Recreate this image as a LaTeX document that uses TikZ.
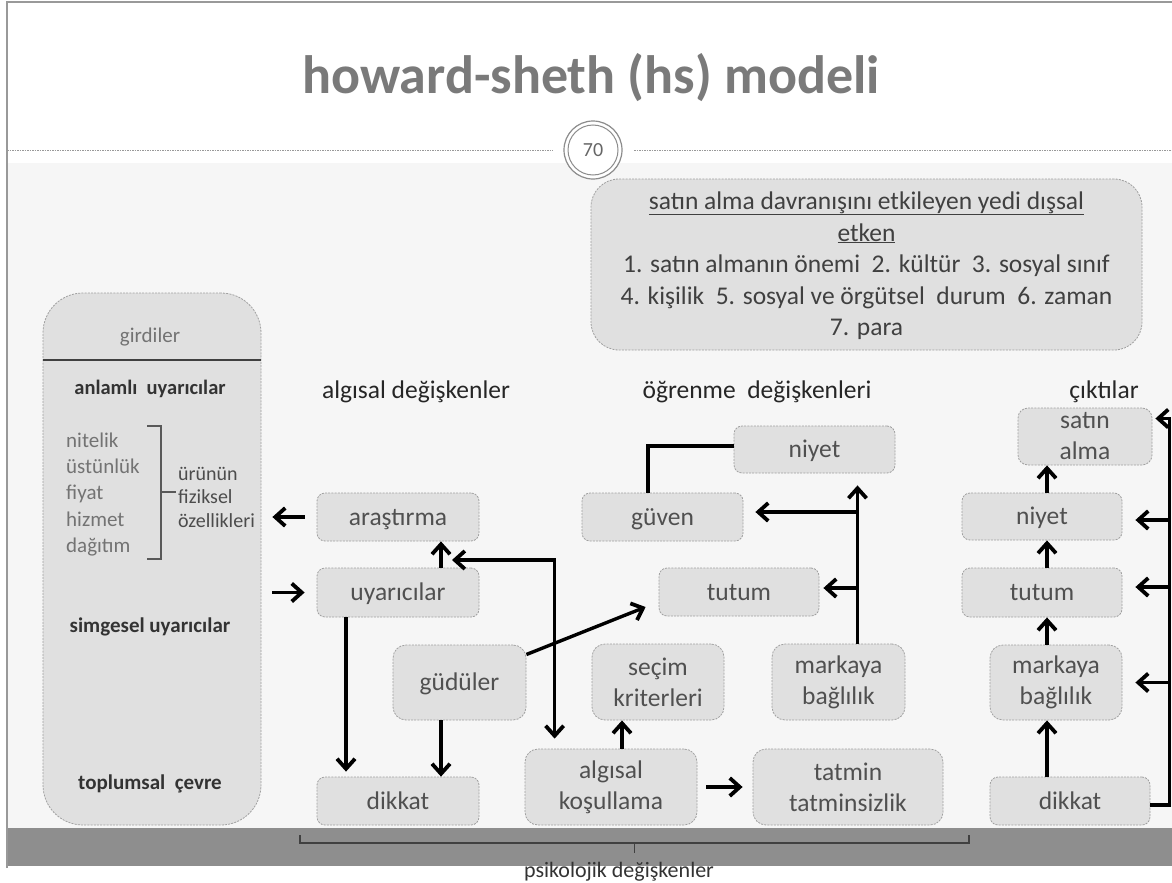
\documentclass[tikz,border=0pt]{standalone}
\usepackage{fontspec}
\setmainfont{Carlito}
\usetikzlibrary{arrows.meta,calc}
\definecolor{boxfill}{HTML}{E0E0E0}
\definecolor{boxline}{HTML}{A0A0A0}
\definecolor{boxtext}{HTML}{505050}
\definecolor{bgband}{HTML}{F6F6F6}
\definecolor{barcol}{HTML}{8E8E8E}
\definecolor{titlecol}{HTML}{7A7A7A}
\newcommand\myfs[2]{\fontsize{#1}{#2}\selectfont}
\tikzset{
  box/.style={draw=boxline, dash pattern=on 2pt off 1.2pt, line width=0.8pt, fill=boxfill,
    rounded corners=8pt, text=boxtext, font=\myfs{25.5}{31}, align=center, inner sep=0pt},
  one/.style={box, text height=16pt, text depth=0pt},
  two/.style={box, rounded corners=13pt},
  tip/.tip={Straight Barb[length=10pt,width=18pt,line width=3.8pt]},
  arr/.style={line width=3.4pt, -tip},
  darr/.style={line width=3.4pt, tip-tip},
  conn/.style={line width=3.4pt},
  lbl/.style={font=\myfs{25.5}{31}, text=black!85, anchor=base, inner sep=0pt},
  ptxt/.style={font=\myfs{21}{25}, anchor=base, inner sep=0pt},
}
\begin{document}
\begin{tikzpicture}[x=1pt,y=-1pt]
\useasboundingbox (0,0) rectangle (1172,883);
% background
\fill[white] (0,0) rectangle (1172,883);
\fill[bgband] (7,163) rectangle (1172,828);
\fill[barcol] (7,828) rectangle (1172,866);
\draw[black!40, line width=1.2pt] (7,868) -- (7,2) -- (1172,2);
% title
\node[font=\bfseries\myfs{54}{60}, text=titlecol, anchor=base, inner sep=0pt] (title) at (591,93)
  {howard-sheth (hs) modeli};
% separator + page number
\draw[black!40, dash pattern=on 1.5pt off 1pt, line width=1pt] (7,150) -- (553,150) (634,150) -- (1172,150);
\draw[black!45, line width=1.2pt, fill=white] (593,150) circle (29pt);
\draw[black!45, line width=1pt] (593,150) circle (25pt);
\node[font=\myfs{20}{24}, text=black!60] (pg) at (593,150) {70};

% external factors box
\node[box, rounded corners=28pt, minimum width=551pt, minimum height=171pt] (ext) at (866.5,264.5) {};
\node[lbl, text=black!75] at (866.5,209) {\underline{satın alma davranışını etkileyen yedi dışsal}};
\node[lbl, text=black!75] at (866.5,241) {\underline{etken}};
\node[lbl, text=black!75] at (866.5,272) {1. satın almanın önemi\ \ 2. kültür\ \ 3. sosyal sınıf};
\node[lbl, text=black!75] at (866.5,304) {4. kişilik\ \ 5. sosyal ve örgütsel\ \ durum\ \ 6. zaman};
\node[lbl, text=black!75] at (866.5,335) {7. para};

% inputs panel
\node[box, rounded corners=40pt, minimum width=218pt, minimum height=532pt] (inp) at (152,559) {};
\draw[black!75, line width=1.5pt] (inp.west |- 0,360) -- (inp.east |- 0,360);
\node[ptxt, text=black!55] at (150,342.5) {girdiler};
\node[ptxt, font=\bfseries\myfs{20.5}{25}, text=black!80] at (150,394) {anlamlı\ \ uyarıcılar};
\node[ptxt, anchor=base west, text=black!55] at (66,447) {nitelik};
\node[ptxt, anchor=base west, text=black!55] at (66,473) {üstünlük};
\node[ptxt, anchor=base west, text=black!55] at (66,499) {fiyat};
\node[ptxt, anchor=base west, text=black!55] at (66,526) {hizmet};
\node[ptxt, anchor=base west, text=black!55] at (66,552) {dağıtım};
\draw[black!65, line width=1.3pt] (147,426) -- (161,426) -- (161,559) -- (147,559) (161,492) -- (176,492);
\node[ptxt, font=\myfs{20}{24}, anchor=base west, text=black!70] at (178,480) {ürünün};
\node[ptxt, font=\myfs{20}{24}, anchor=base west, text=black!70] at (178,503) {fiziksel};
\node[ptxt, font=\myfs{20}{24}, anchor=base west, text=black!70] at (178,527) {özellikleri};
\node[ptxt, font=\bfseries\myfs{21}{25}, text=black!80] at (150,632) {simgesel uyarıcılar};
\node[ptxt, font=\bfseries\myfs{21}{25}, text=black!80] at (150,789) {toplumsal\ \ çevre};

% section labels
\node[lbl] at (416,398) {algısal değişkenler};
\node[lbl] at (757,398) {öğrenme\ \ değişkenleri};
\node[lbl] at (1104,398) {çıktılar};

% nodes
\node[one, minimum width=162pt, minimum height=48pt] (ara) at (398,517) {araştırma};
\node[one, minimum width=162pt, minimum height=49pt] (uya) at (398,592.5) {uyarıcılar};
\node[two, minimum width=133pt, minimum height=75pt, text height=16pt, text depth=0pt] (gud) at (459.5,682.5) {güdüler};
\node[one, minimum width=162pt, minimum height=48pt] (dik1) at (398,801) {dikkat};
\node[two, minimum width=172pt, minimum height=76pt] (alg) at (611,787) {algısal\\koşullama};
\node[two, minimum width=132pt, minimum height=76pt] (sec) at (658,682) {seçim\\kriterleri};
\node[one, minimum width=161pt, minimum height=48pt] (guv) at (662.5,517) {güven};
\node[one, minimum width=161pt, minimum height=47pt] (niy1) at (814.5,449.5) {niyet};
\node[one, minimum width=160pt, minimum height=48pt] (tut1) at (739,592) {tutum};
\node[two, minimum width=133pt, minimum height=76pt] (mar1) at (838.5,682) {markaya\\bağlılık};
\node[two, minimum width=190pt, minimum height=76pt] (tat) at (848,787) {tatmin\\tatminsizlik};

\node[two, rounded corners=10pt, minimum width=134pt, minimum height=57pt] (sat) at (1085,436.5) {satın\\alma};
\node[one, minimum width=160pt, minimum height=47pt] (niy2) at (1042,516.5) {niyet};
\node[one, minimum width=160pt, minimum height=49pt] (tut2) at (1042,592.5) {tutum};
\node[two, minimum width=132pt, minimum height=75pt] (mar2) at (1056,682.5) {markaya\\bağlılık};
\node[one, minimum width=160pt, minimum height=48pt] (dik2) at (1070,801) {dikkat};

% connectors (left / middle)
\draw[arr] ($(ara.west)+(-12,0)$) -- ($(ara.west -| inp.east)+(11,0)$);
\draw[arr] ($(uya.west -| inp.east)+(11,0)$) -- ($(uya.west)+(-12,0)$);
\draw[arr] ($(uya.north)+(43,0)$) -- ($(ara.south)+(43,0)$);
\coordinate (t1) at (452,560);
\coordinate (k1) at ($(alg.north west)+(30,0)$);
\draw[darr] (t1) -- (t1 -| k1) -- ($(k1)+(0,-10)$);
\draw[arr] ($(uya.south)+(-52,0)$) -- ($(dik1.north)+(-52,-5)$);
\draw[arr] ($(gud.south)+(-18.5,0)$) -- ($(dik1.north)+(43,0)$);
\draw[arr] ($(gud.east)+(0,-28)$) -- ($(tut1.west)+(-13,15)$);
\draw[arr] ($(alg.north)+(11,0)$) -- ($(sec.south)+(-36,0)$);
\draw[arr] ($(alg.east)+(9,0)$) -- ($(tat.west)+(-10,0)$);
\coordinate (mx) at ($(mar1.north)+(19,0)$);
\draw[arr] (mx) -- ($(mx |- niy1.south)+(0,12)$);
\draw[arr] ($(mx |- guv.east)+(0,-5)$) -- ($(guv.east)+(12,-5)$);
\draw[arr] ($(mx |- tut1.east)+(0,-4)$) -- ($(tut1.east)+(4,-4)$);
\draw[conn] ($(guv.north)+(-14.5,0)$) |- ($(niy1.west)+(0,-3.5)$);

% connectors (outputs)
\draw[arr] ($(niy2.north)+(5,0)$) -- ($(sat.south)+(-38,0)$);
\draw[arr] ($(tut2.north)+(5,0)$) -- ($(niy2.south)+(5,0)$);
\draw[arr] ($(mar2.north)+(-9,0)$) -- ($(tut2.south)+(5,0)$);
\draw[arr] ($(dik2.north)+(-23,0)$) -- ($(mar2.south)+(-9,0)$);
\coordinate (fx) at ($(dik2.east)+(19,0)$);
\draw[arr] ($(dik2.east)+(0,4)$) -| ($(fx |- sat.east)+(0,-18)$) -- ($(sat.east)+(3,-18)$);
\draw[arr] ($(fx |- niy2.east)+(0,3.5)$) -- ($(niy2.east)+(13,3.5)$);
\draw[arr] ($(fx |- tut2.east)+(0,-5.5)$) -- ($(tut2.east)+(13,-5.5)$);
\draw[arr] (fx |- mar2.east) -- ($(mar2.east)+(13,0)$);

% psychological variables brace
\draw[black!75, line width=1.5pt] (300,835) -- (300,843) -- (969,843) -- (969,835) (634.5,843) -- (634.5,853);
\node[font=\myfs{22}{26}, text=black!80, anchor=base, inner sep=0pt] at (619,877) {psikolojik değişkenler};
\end{tikzpicture}
\end{document}
